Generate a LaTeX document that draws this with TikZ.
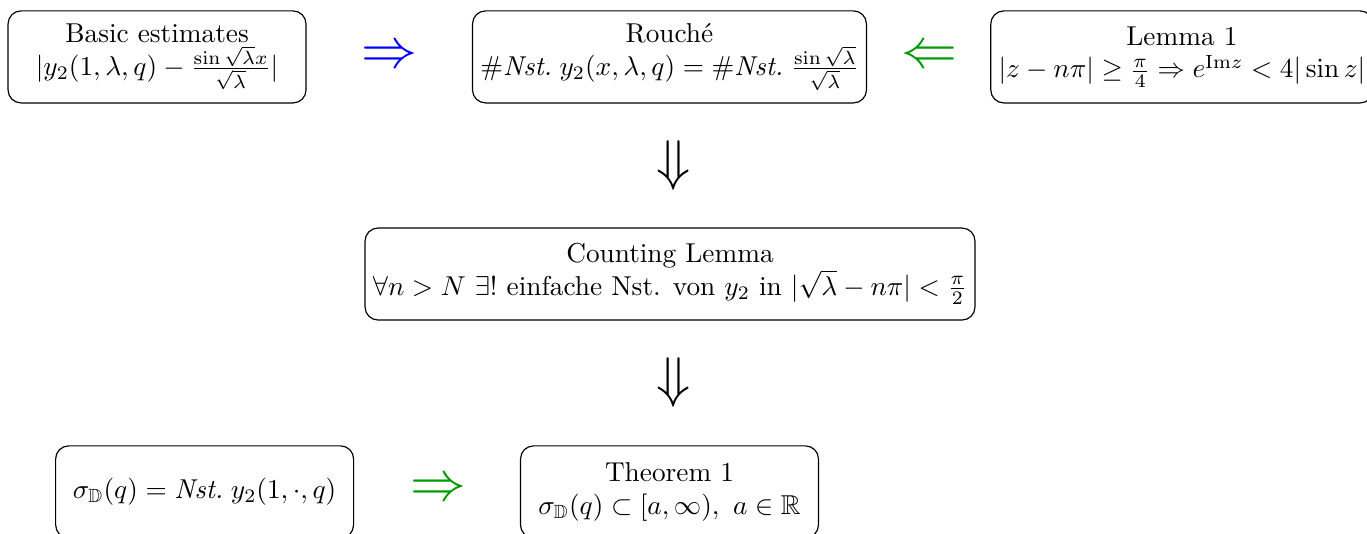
\RequirePackage{fix-cm}
\documentclass[tikz,border=0pt]{standalone}
\usepackage{amsmath,amssymb}
\definecolor{mygreen}{rgb}{0,0.6,0}
\begin{document}
\begin{tikzpicture}[x=1pt,y=1pt,
  box/.style={draw,rounded corners=5pt,align=center,inner sep=3pt,
    minimum width=114.6pt,minimum height=35.4pt,line width=0.45pt,
    font=\fontsize{10.5pt}{12.6pt}\selectfont},
  bigarrow/.style={inner sep=0pt,font=\fontsize{21.5pt}{26pt}\selectfont}]
\useasboundingbox (0,0) rectangle (525.77,-205.38);
\node[box] (basic) at (60.4,-21.9) {Basic estimates\\ $|y_2(1,\lambda,q)-\frac{\sin\sqrt{\lambda}x}{\sqrt{\lambda}}|$};
\node[box] (rouche) at (257.5,-21.9) {Rouché\\ $\#\textit{Nst.}\;y_2(x,\lambda,q)=\#\textit{Nst.}\;\frac{\sin\sqrt{\lambda}}{\sqrt{\lambda}}$};
\node[box] (lemma) at (454.6,-21.9) {Lemma 1\\ $|z-n\pi|\geq\frac{\pi}{4}\Rightarrow e^{\mathrm{Im}z}<4|\sin z|$};
\node[box] (count) at (257.7,-105.4) {Counting Lemma\\ $\forall n>N\ \exists!$ einfache Nst. von $y_2$ in $|\sqrt{\lambda}-n\pi|<\frac{\pi}{2}$};
\node[box] (sigma) at (78.7,-189.2) {$\sigma_{\mathbb{D}}(q)=\textit{Nst.}\;y_2(1,\cdot,q)$};
\node[box] (thm) at (257.5,-189.2) {Theorem 1\\ $\sigma_{\mathbb{D}}(q)\subset[a,\infty),\ a\in\mathbb{R}$};
\node[bigarrow,text=blue] (a1) at (149.6,-21.9) {$\Rightarrow$};
\node[bigarrow,text=mygreen] (a2) at (357.3,-21.9) {$\Leftarrow$};
\node[bigarrow] (a3) at (259.2,-63.8) {$\Downarrow$};
\node[bigarrow] (a4) at (259.2,-147.3) {$\Downarrow$};
\node[bigarrow,text=mygreen] (a5) at (168.5,-188.5) {$\Rightarrow$};
\end{tikzpicture}
\end{document}
